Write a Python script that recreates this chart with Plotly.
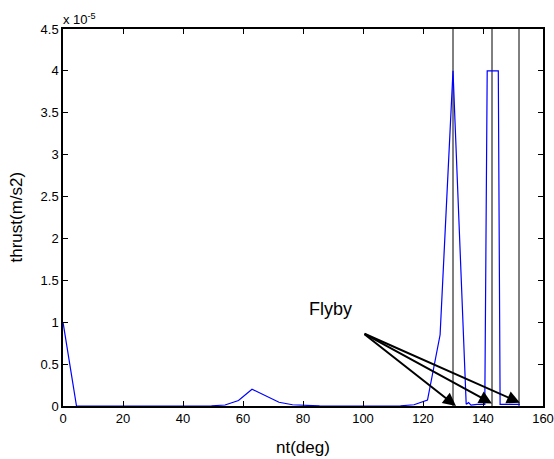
import plotly.graph_objects as go

# thrust in units of 1e-5 m/s^2
nt_deg = [0, 4.5, 9, 13.5, 18, 22.5, 27, 31.5, 36, 40.5, 45, 49.5, 54, 58.5, 63, 67.5,
          72, 76.5, 81, 85.5, 90, 94.5, 99, 103.5, 108, 112.5, 117, 121.5, 125.7, 130,
          134.4, 135.2, 136, 138, 140.6, 141.4, 145.1, 145.7, 148, 152.3]
thrust = [1.0, 0, 0, 0, 0, 0, 0, 0, 0, 0, 0.001, 0.003, 0.012, 0.065, 0.2, 0.12,
          0.045, 0.015, 0.004, 0.001, 0, 0, 0, 0, 0.001, 0.003, 0.015, 0.07, 0.85, 4.0,
          0.02, 0.04, 0.01, 0.02, 0.02, 4.0, 4.0, 0.02, 0.02, 0.02]
flyby_deg = [130, 143, 152]
arrow_head_x = [131, 143, 152.3]
arrow_head_y = [0.0, 0.03, 0.04]
y_max = 4.5
arrow_tail = (100, 0.87)
x_ticks = [0, 20, 40, 60, 80, 100, 120, 140, 160]
y_ticks = [0, 0.5, 1, 1.5, 2, 2.5, 3, 3.5, 4, 4.5]
y_tick_text = ["0", "0.5", "1", "1.5", "2", "2.5", "3", "3.5", "4", "4.5"]

font = "Liberation Sans, Arial, sans-serif"
fig = go.Figure()
for fx in flyby_deg:
    fig.add_trace(go.Scatter(x=[fx, fx], y=[0, y_max], mode="lines",
                             line=dict(color="black", width=1), showlegend=False,
                             hoverinfo="skip"))
fig.add_trace(go.Scatter(x=nt_deg, y=thrust, mode="lines",
                         line=dict(color="#0000ff", width=1.2), showlegend=False))

for hx, hy in zip(arrow_head_x, arrow_head_y):
    fig.add_annotation(x=hx, y=hy, ax=arrow_tail[0], ay=arrow_tail[1],
                       xref="x", yref="y", axref="x", ayref="y", text="",
                       showarrow=True, arrowhead=2, arrowsize=1.3, arrowwidth=2,
                       arrowcolor="black", standoff=0)
fig.add_annotation(x=89, y=1.16, xref="x", yref="y", text="Flyby", showarrow=False,
                   font=dict(family=font, size=18, color="black"))
fig.add_annotation(x=0, y=1, xref="paper", yref="paper", xanchor="left", yanchor="bottom",
                   text="x 10<sup>-5</sup>", showarrow=False, xshift=-2, yshift=0,
                   font=dict(family=font, size=13, color="black"))
fig.add_annotation(x=0, y=0.5, xref="paper", yref="paper", xanchor="center", yanchor="middle",
                   text="thrust(m/s2)", textangle=-90, showarrow=False, xshift=-47,
                   font=dict(family=font, size=17, color="black"))
fig.add_annotation(x=0.5, y=0, xref="paper", yref="paper", xanchor="center", yanchor="middle",
                   text="nt(deg)", showarrow=False, yshift=-41,
                   font=dict(family=font, size=17, color="black"))

axis_common = dict(showgrid=False, zeroline=False, showline=True, linecolor="black",
                   linewidth=1.5, mirror="ticks", ticks="inside", ticklen=5,
                   tickcolor="black", automargin=False,
                   tickfont=dict(family=font, size=13, color="black"))
fig.update_xaxes(range=[0, 160], tickvals=x_ticks, **axis_common)
fig.update_yaxes(range=[0, y_max], tickvals=y_ticks, ticktext=y_tick_text, **axis_common)
fig.update_layout(width=554, height=459, margin=dict(l=63, r=11, t=29, b=53),
                  plot_bgcolor="white", paper_bgcolor="white")
fig.write_html("out.html", config={"displayModeBar": False},
               post_script="document.body.style.margin='0';document.body.style.overflow='hidden';")
